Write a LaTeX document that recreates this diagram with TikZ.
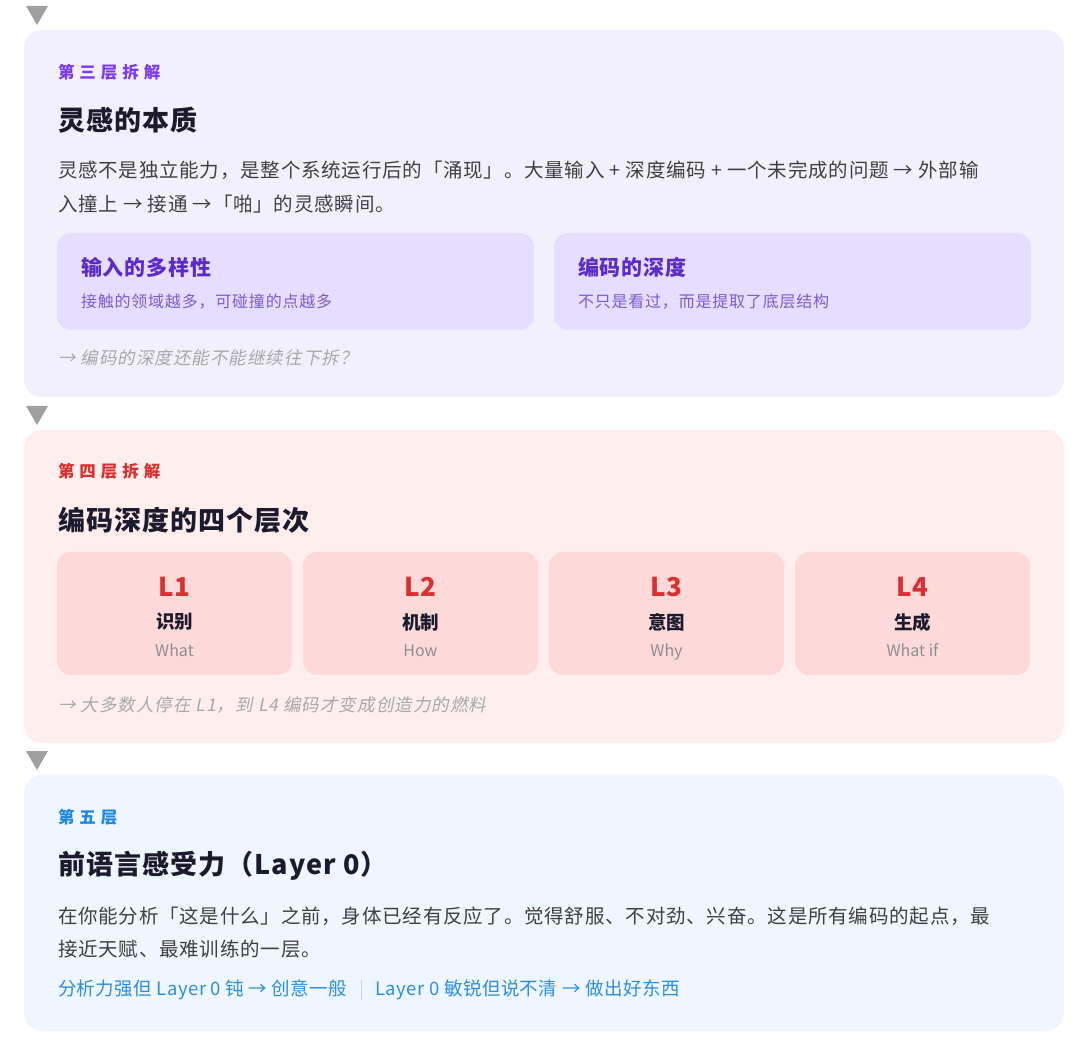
\documentclass[tikz,border=0pt]{standalone}
\usepackage{fontspec}
\setmainfont{Noto Sans CJK SC}
\newfontfamily\itfont[FakeSlant=0.2]{Noto Sans CJK SC}
\newcommand\fsz[1]{\fontsize{#1}{#1}\selectfont}
\newcommand\lsp[1]{\addfontfeature{LetterSpace=#1}}
\definecolor{pbgA}{HTML}{F3F0FE}
\definecolor{cbgA}{HTML}{E6DEFE}
\definecolor{purA}{HTML}{7C3AED}
\definecolor{purT}{HTML}{5B2BC9}
\definecolor{purS}{HTML}{7C5BD0}
\definecolor{pbgB}{HTML}{FEEFEE}
\definecolor{cbgB}{HTML}{FDDAD9}
\definecolor{redA}{HTML}{DC2F2F}
\definecolor{pbgC}{HTML}{EFF6FF}
\definecolor{bluA}{HTML}{1E88E5}
\definecolor{bluB}{HTML}{2B8FE0}
\definecolor{darkT}{HTML}{1C1B2E}
\definecolor{bodyT}{HTML}{404040}
\definecolor{noteT}{HTML}{A8A8A8}
\definecolor{engT}{HTML}{8E8E8E}
\definecolor{triG}{HTML}{A0A0A0}
\definecolor{sepG}{HTML}{C8D4E4}
\tikzset{
  panel/.style={rounded corners=18pt, draw=none, inner sep=0pt},
  card/.style={rounded corners=14pt, draw=none, inner sep=0pt},
  txt/.style={inner sep=0pt, outer sep=0pt, anchor=west},
  ctxt/.style={inner sep=0pt, outer sep=0pt, anchor=center},
  lbl/.style={txt, font=\bfseries\fsz{16.5}\lsp{30}},
  ttl/.style={txt, font=\bfseries\fsz{27}\lsp{4}, text=darkT},
  body/.style={txt, font=\fsz{19.5}\lsp{4}, text=bodyT},
  note/.style={txt, font=\itfont\fsz{17.5}\lsp{6}, text=noteT},
  ctitle/.style={txt, font=\bfseries\fsz{21}\lsp{4}, text=purT},
  csub/.style={txt, font=\fsz{16}\lsp{5}, text=purS},
  lvl/.style={ctxt, font=\bfseries\fsz{26}, text=redA},
  lname/.style={ctxt, font=\bfseries\fsz{18.5}, text=darkT},
  leng/.style={ctxt, font=\fsz{16}, text=engT},
  blu/.style={txt, font=\fsz{18.5}\lsp{2.5}, text=bluB},
  tri/.style={fill=triG, draw=none}
}
\begin{document}
\begin{tikzpicture}[x=1pt,y=-1pt]
\useasboundingbox[fill=white] (0,0) rectangle (1080,1048);
% triangles
\fill[tri] (26,6) -- (48,6) -- (37,25) -- cycle;
\fill[tri] (26,406) -- (48,406) -- (37,425) -- cycle;
\fill[tri] (26,751) -- (48,751) -- (37,770) -- cycle;

% ---------- panel 1 ----------
\node[panel, fill=pbgA, minimum width=1040pt, minimum height=367pt] (P1) at (544,213.5) {};
\node[lbl, text=purA] (P1l) at (58,72) {第三层拆解};
\node[ttl] (P1t) at (58,120) {灵感的本质};
\node[body] (P1b1) at (58,170) {灵感不是独立能力，是整个系统运行后的「涌现」。大量输入 + 深度编码 + 一个未完成的问题 → 外部输};
\node[body] (P1b2) at (58,204) {入撞上 → 接通 →「啪」的灵感瞬间。};
\node[card, fill=cbgA, minimum width=477pt, minimum height=97pt] (C1) at (295.5,281.5) {};
\node[card, fill=cbgA, minimum width=477pt, minimum height=97pt] (C2) at (792.5,281.5) {};
\node[ctitle] (C1t) at (81,267) {输入的多样性};
\node[csub] (C1s) at (81,302) {接触的领域越多，可碰撞的点越多};
\node[ctitle] (C2t) at (578,267) {编码的深度};
\node[csub] (C2s) at (578,302) {不只是看过，而是提取了底层结构};
\node[note] (P1n) at (58,358) {→ 编码的深度还能不能继续往下拆？};

% ---------- panel 2 ----------
\node[panel, fill=pbgB, minimum width=1040pt, minimum height=313pt] (P2) at (544,586.5) {};
\node[lbl, text=redA] (P2l) at (58,471) {第四层拆解};
\node[ttl] (P2t) at (58,520) {编码深度的四个层次};
\foreach \cx/\L/\N/\E [count=\i] in {174.5/L1/识别/What, 420.5/L2/机制/How, 666.5/L3/意图/Why, 912.5/L4/生成/What if}{
  \node[card, fill=cbgB, minimum width=235pt, minimum height=123pt] (D\i) at (\cx,613.5) {};
  \node[lvl] (D\i l) at (\cx,587) {\L};
  \node[lname] (D\i n) at (\cx,622) {\N};
  \node[leng, anchor=base] (D\i e) at (\cx,656) {\E};
}
\node[note] (P2n) at (58,705) {→ 大多数人停在 L1，到 L4 编码才变成创造力的燃料};

% ---------- panel 3 ----------
\node[panel, fill=pbgC, minimum width=1040pt, minimum height=256pt] (P3) at (544,903) {};
\node[lbl, text=bluA] (P3l) at (58,817) {第五层};
\node[ttl] (P3t) at (58,866) {前语言感受力（Layer 0）};
\node[body] (P3b1) at (58,916) {在你能分析「这是什么」之前，身体已经有反应了。觉得舒服、不对劲、兴奋。这是所有编码的起点，最};
\node[body] (P3b2) at (58,949) {接近天赋、最难训练的一层。};
\node[blu] (P3x) at (58,990) {分析力强但 Layer 0 钝 → 创意一般};
\coordinate (S1) at ([xshift=14pt]P3x.east |- 0,980);
\coordinate (S2) at ([xshift=14pt]P3x.east |- 0,1000);
\draw[sepG, line width=1pt] (S1) -- (S2);
\node[blu] (P3y) at ([xshift=28pt]P3x.east) {Layer 0 敏锐但说不清 → 做出好东西};
\end{tikzpicture}
\end{document}
